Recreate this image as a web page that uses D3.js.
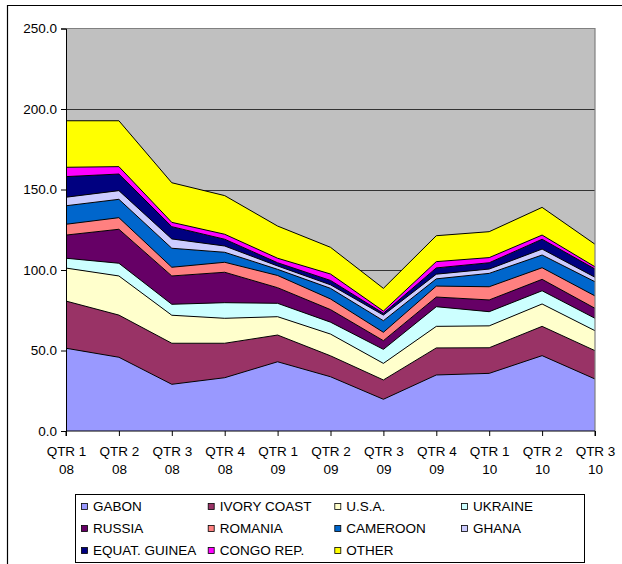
<!DOCTYPE html>
<html>
<head>
<meta charset="utf-8">
<script src="https://cdn.jsdelivr.net/npm/d3@7/dist/d3.min.js"></script>
<style>
  body { margin: 0; background: #fff; }
  svg { display: block; font-family: "Liberation Sans", Arial, sans-serif; }
</style>
</head>
<body>
<svg id="chart" width="622" height="564"></svg>
<script>
// Quarterly tonnage by origin, stacked
const quarters = ["QTR 1", "QTR 2", "QTR 3", "QTR 4", "QTR 1", "QTR 2", "QTR 3", "QTR 4", "QTR 1", "QTR 2", "QTR 3"];
const years    = ["08", "08", "08", "08", "09", "09", "09", "09", "10", "10", "10"];

const seriesNames = ["GABON", "IVORY COAST", "U.S.A.", "UKRAINE", "RUSSIA", "ROMANIA",
                     "CAMEROON", "GHANA", "EQUAT. GUINEA", "CONGO REP.", "OTHER"];

const gabon      = [51.4, 45.8, 29.0, 33.1, 43.0, 33.7, 19.7, 34.8, 35.8, 46.8, 32.3];
const ivoryCoast = [29.3, 26.2, 25.5, 21.4, 16.6, 13.0, 12.0, 16.8, 15.9, 18.2, 17.6];
const usa        = [20.5, 24.3, 17.4, 15.5, 11.4, 13.5, 10.3, 13.4, 13.6, 13.9, 12.4];
const ukraine    = [ 6.1,  7.9,  6.8,  9.7,  8.3,  7.4,  8.7, 12.2,  8.8,  8.2,  7.7];
const russia     = [14.4, 21.1, 17.6, 18.9,  9.7,  7.8,  5.4,  6.0,  7.3,  7.1,  6.2];
const romania    = [ 6.7,  7.2,  5.4,  6.2,  7.6,  6.6,  5.2,  6.8,  8.2,  7.2,  7.7];
const cameroon   = [11.5, 11.4, 11.8,  6.2,  3.8,  6.6,  7.2,  4.5,  8.3,  7.9,  8.8];
const ghana      = [ 5.3,  5.4,  5.8,  3.9,  2.1,  2.2,  3.5,  2.9,  2.7,  3.7,  2.8];
const equatGuinea= [12.8, 10.3,  7.6,  4.2,  2.0,  2.7,  1.1,  3.9,  3.9,  6.1,  5.1];
const congoRep   = [ 5.8,  4.6,  2.7,  3.1,  2.8,  4.0,  1.4,  3.9,  3.2,  2.6,  1.4];
const other      = [28.9, 28.5, 24.6, 24.0, 20.0, 16.6, 14.1, 16.1, 16.1, 17.2, 14.0];

const seriesValues = [gabon, ivoryCoast, usa, ukraine, russia, romania,
                      cameroon, ghana, equatGuinea, congoRep, other];

const seriesColors = ["#9999FF", "#993366", "#FFFFCC", "#CCFFFF", "#660066", "#FF8080",
                      "#0066CC", "#CCCCFF", "#000080", "#FF00FF", "#FFFF00"];

const yTicks = [0, 50, 100, 150, 200, 250];

// ---- layout ----
const plot = { left: 66, right: 595, top: 28.5, bottom: 431 };
const svg = d3.select("#chart");

// outer chart frame
svg.append("path")
  .attr("d", "M7.5,564 V5.5 H622")
  .attr("fill", "none").attr("stroke", "#000").attr("stroke-width", 1.2);

const idx = d3.range(quarters.length);
const x = d3.scalePoint().domain(idx).range([plot.left, plot.right]).padding(0);
const y = d3.scaleLinear().domain([0, 250]).range([plot.bottom, plot.top]);

// plot background
svg.append("rect")
  .attr("x", plot.left).attr("y", plot.top)
  .attr("width", plot.right - plot.left).attr("height", plot.bottom - plot.top)
  .attr("fill", "#C0C0C0");

// gridlines
svg.append("g").selectAll("line")
  .data(yTicks.filter(t => t > 0 && t < 250))
  .join("line")
  .attr("x1", plot.left).attr("x2", plot.right)
  .attr("y1", d => Math.round(y(d)) + 0.5).attr("y2", d => Math.round(y(d)) + 0.5)
  .attr("stroke", "#333").attr("stroke-width", 1);

// stacked areas
const rows = idx.map(i => {
  const r = { i };
  seriesNames.forEach((n, s) => { r[n] = seriesValues[s][i]; });
  return r;
});
const stacked = d3.stack().keys(seriesNames)(rows);

const area = d3.area()
  .x(d => x(d.data.i))
  .y0(d => y(d[0]))
  .y1(d => y(d[1]));
const topLine = d3.line()
  .x(d => x(d.data.i))
  .y(d => y(d[1]));

svg.append("g").selectAll("path")
  .data(stacked)
  .join("path")
  .attr("d", area)
  .attr("fill", (d, s) => seriesColors[s]);

svg.append("g").selectAll("path")
  .data(stacked)
  .join("path")
  .attr("d", topLine)
  .attr("fill", "none")
  .attr("stroke", "#000")
  .attr("stroke-width", 1)
  .attr("stroke-linejoin", "round");

// plot border (top/right)
svg.append("path")
  .attr("d", `M${plot.left},${plot.top} H${plot.right} V${plot.bottom}`)
  .attr("fill", "none").attr("stroke", "#808080").attr("stroke-width", 1.2);

// y axis
const yAxis = d3.axisLeft(y).tickValues(yTicks).tickFormat(d3.format(".1f"))
  .tickSize(5).tickPadding(4);
const gy = svg.append("g").attr("transform", `translate(${plot.left},0)`).call(yAxis);
gy.select(".domain").attr("stroke", "#000");
gy.selectAll(".tick line").attr("stroke", "#000");
gy.selectAll(".tick text")
  .attr("font-size", "13.5px").attr("fill", "#000")
  .attr("font-family", "Liberation Sans, Arial, sans-serif");

// x axis with two-line labels
const xAxis = d3.axisBottom(x).tickSize(5).tickFormat(() => "");
const gx = svg.append("g").attr("transform", `translate(0,${plot.bottom})`).call(xAxis);
gx.select(".domain").attr("stroke", "#000").attr("d", `M${plot.left},5V0H${plot.right}V5`);
gx.selectAll(".tick line").attr("stroke", "#000");
gx.selectAll(".tick").each(function (i) {
  const t = d3.select(this).select("text")
    .attr("font-size", "13.5px").attr("fill", "#000")
    .attr("font-family", "Liberation Sans, Arial, sans-serif")
    .attr("text-anchor", "middle").attr("dy", null).attr("y", 0);
  t.append("tspan").attr("x", 0).attr("y", 25).text(quarters[i]);
  t.append("tspan").attr("x", 0).attr("y", 42.5).text(years[i]);
});

// legend
const legend = svg.append("g");
legend.append("rect")
  .attr("x", 75.5).attr("y", 494.5).attr("width", 509).attr("height", 68)
  .attr("fill", "#fff").attr("stroke", "#000").attr("stroke-width", 1);

const colX = [81, 207.7, 334.3, 461];
const rowY = [506, 528, 550];
const items = legend.selectAll("g.item")
  .data(seriesNames)
  .join("g")
  .attr("class", "item")
  .attr("transform", (d, k) => `translate(${colX[k % 4]},${rowY[Math.floor(k / 4)]})`);
items.append("rect")
  .attr("x", 0.5).attr("y", -2.5).attr("width", 6).attr("height", 6)
  .attr("fill", (d, k) => seriesColors[k])
  .attr("stroke", "#000").attr("stroke-width", 0.8);
items.append("text")
  .attr("x", 12).attr("y", 0).attr("dy", "0.35em")
  .attr("font-size", "13.5px").attr("fill", "#000")
  .text(d => d);
</script>
</body>
</html>
